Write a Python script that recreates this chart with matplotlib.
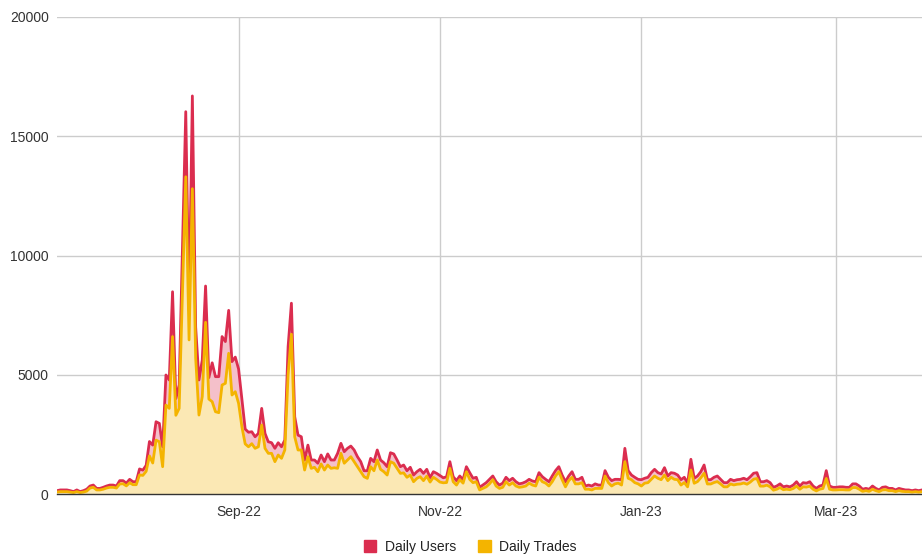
import numpy as np
import pandas as pd
import matplotlib
matplotlib.use("Agg")
import matplotlib.pyplot as plt
import matplotlib.dates as mdates
from matplotlib.patches import Patch

plt.rcParams['font.family'] = ['Liberation Sans', 'DejaVu Sans']

dates = pd.date_range("2022-07-08", "2023-03-27", freq="D")

daily_users = [
    140, 170, 170, 170, 140, 100, 170, 100, 140, 200,
    335, 375, 235, 235, 280, 335, 375, 375, 335, 560,
    560, 455, 615, 515, 515, 1050, 1000, 1200, 2200, 2050,
    3030, 2960, 1980, 4990, 4780, 8480, 4000, 4570, 10300, 16030,
    7715, 16690, 7000, 4780, 5620, 8720, 4880, 5500, 4920, 4920,
    6600, 6390, 7700, 5550, 5740, 5240, 4000, 2720, 2590, 2610,
    2400, 2540, 3590, 2540, 2190, 2150, 1915, 2150, 1980, 2260,
    6180, 8000, 3240, 2470, 2400, 1425, 2050, 1425, 1425, 1290,
    1635, 1355, 1680, 1425, 1425, 1705, 2125, 1775, 1915, 2010,
    1845, 1565, 1355, 975, 975, 1495, 1355, 1845, 1425, 1310,
    1145, 1730, 1680, 1425, 1145, 1215, 975, 1120, 795, 935,
    1035, 865, 1035, 685, 935, 865, 775, 680, 720, 1355,
    725, 560, 755, 600, 1145, 895, 660, 700, 280, 375,
    475, 615, 755, 515, 375, 455, 700, 560, 660, 515,
    425, 455, 515, 615, 545, 515, 895, 725, 615, 515,
    755, 980, 1145, 795, 515, 755, 935, 615, 615, 700,
    335, 375, 335, 425, 375, 375, 980, 700, 560, 615,
    615, 600, 1915, 980, 795, 700, 615, 600, 660, 700,
    895, 1035, 895, 840, 1105, 755, 895, 870, 795, 600,
    700, 455, 1455, 660, 755, 935, 1215, 600, 600, 700,
    755, 615, 475, 475, 615, 560, 600, 615, 660, 600,
    725, 870, 895, 515, 515, 560, 475, 280, 335, 425,
    300, 335, 300, 375, 515, 335, 475, 455, 515, 335,
    235, 335, 375, 980, 335, 280, 280, 300, 300, 280,
    280, 425, 425, 335, 200, 235, 200, 335, 235, 170,
    280, 300, 235, 235, 170, 235, 200, 170, 170, 140,
    170, 140, 170,
]

daily_trades = [
    80, 100, 100, 100, 80, 60, 100, 60, 80, 120,
    250, 280, 170, 170, 200, 250, 280, 280, 250, 420,
    430, 340, 470, 390, 390, 800, 780, 950, 1600, 1300,
    2260, 2190, 1145, 3730, 3590, 6600, 3300, 3590, 8500, 13300,
    6460, 12800, 5700, 3310, 4080, 7200, 3980, 3870, 3450, 3410,
    4570, 4640, 5900, 4150, 4290, 3800, 2820, 2100, 1980, 2110,
    1915, 1980, 2890, 1915, 1705, 1705, 1355, 1635, 1495, 1845,
    5000, 6700, 2400, 1845, 1845, 1005, 1565, 1075, 1120, 935,
    1260, 1005, 1215, 1075, 1100, 1075, 1705, 1290, 1425, 1565,
    1355, 1145, 935, 725, 655, 1145, 975, 1425, 1035, 935,
    795, 1355, 1290, 1075, 865, 885, 700, 795, 515, 655,
    725, 560, 750, 500, 700, 610, 500, 470, 480, 1075,
    515, 375, 600, 455, 935, 615, 475, 515, 170, 235,
    300, 425, 600, 335, 235, 280, 515, 375, 475, 335,
    280, 300, 335, 455, 375, 335, 700, 515, 455, 335,
    515, 755, 935, 600, 300, 560, 700, 425, 425, 475,
    200, 200, 170, 235, 235, 235, 755, 475, 335, 425,
    455, 375, 1355, 660, 600, 475, 425, 335, 455, 475,
    615, 755, 660, 600, 795, 560, 700, 615, 600, 375,
    480, 300, 1005, 450, 520, 680, 870, 420, 420, 480,
    520, 420, 300, 300, 420, 380, 410, 420, 460, 410,
    500, 620, 650, 330, 330, 370, 300, 160, 200, 270,
    180, 200, 180, 230, 330, 200, 300, 290, 330, 200,
    130, 200, 230, 650, 200, 170, 170, 180, 180, 170,
    170, 270, 270, 200, 110, 140, 110, 200, 140, 100,
    170, 180, 140, 140, 100, 140, 110, 100, 100, 80,
    100, 80, 100,
]

yticks = [0, 5000, 10000, 15000, 20000]
xticks = pd.to_datetime(["2022-09-01", "2022-11-01", "2023-01-01", "2023-03-01"])

red = "#DB2D4F"
yellow = "#F4B400"
pink_fill = "#F4C0CA"
yellow_fill = "#FBE8B4"

fig = plt.figure(figsize=(9.22, 5.56), dpi=100)
ax = fig.add_axes([57 / 922, 1 - 494 / 556, 1 - 57 / 922, (494 - 17) / 556])

# the trades area sits on top of the users area, like in the sheet
ax.fill_between(dates, daily_trades, daily_users, color=pink_fill, lw=0)
ax.fill_between(dates, 0, daily_trades, color=yellow_fill, lw=0)
ax.plot(dates, daily_users, color=red, lw=2.0)
ax.plot(dates, daily_trades, color=yellow, lw=2.0)

ax.set_xlim(dates[0], dates[-1])
ax.set_ylim(0, 20000)
ax.set_yticks(yticks)
ax.set_xticks(xticks)
ax.xaxis.set_major_formatter(mdates.DateFormatter("%b-%y"))
ax.tick_params(length=0, labelsize=10, colors="#333333")
ax.tick_params(axis='y', pad=6)
ax.tick_params(axis='x', pad=8)
ax.grid(True, color="#CCCCCC", lw=1)
ax.set_axisbelow(True)
for s in ["top", "right", "left"]:
    ax.spines[s].set_visible(False)
ax.spines["bottom"].set_color("#333333")
ax.spines["bottom"].set_linewidth(1)
ax.spines["bottom"].set_zorder(5)

handles = [Patch(color=red, label="Daily Users"), Patch(color=yellow, label="Daily Trades")]
fig.legend(handles=handles, loc="center", bbox_to_anchor=(0.51, 1 - 547 / 556), ncol=2,
           frameon=False, fontsize=10, handlelength=0.9, handleheight=0.9,
           columnspacing=1.6, handletextpad=0.6, labelcolor="#222222")

fig.savefig("out.png", dpi=100)
